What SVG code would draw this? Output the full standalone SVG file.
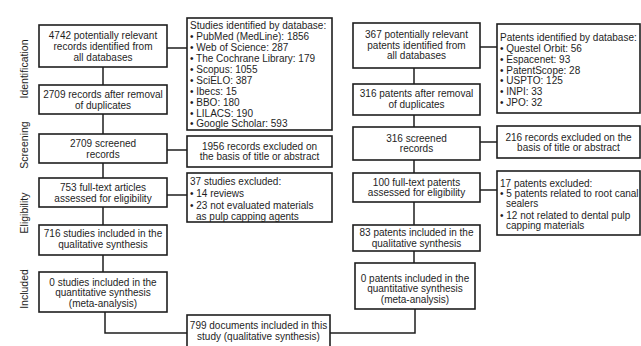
<svg xmlns="http://www.w3.org/2000/svg" width="641" height="346" viewBox="0 0 641 346">
<style>
.b{fill:#fff;stroke:#1e1e1e;stroke-width:1.6}
.c{fill:none;stroke:#1e1e1e;stroke-width:1.5}
text{font-family:"Liberation Sans",Arial,sans-serif;font-size:10px;fill:#1e1e1e}
.m{text-anchor:middle}
.s{font-size:10.5px;text-anchor:middle}
</style>
<rect width="641" height="346" fill="#fff"/>
<g id="stages">
<text class="s" transform="translate(28,69) rotate(-90)">Identification</text>
<text class="s" transform="translate(28,145) rotate(-90)">Screening</text>
<text class="s" transform="translate(28,213) rotate(-90)">Eligibility</text>
<text class="s" transform="translate(28,289) rotate(-90)">Included</text>
</g>
<g id="connectors">
<polyline class="c" points="103,67 103,85"/>
<polyline class="c" points="103,114 103,134"/>
<polyline class="c" points="103,163 103,178"/>
<polyline class="c" points="103,207 103,225"/>
<polyline class="c" points="103,255 103,272"/>
<polyline class="c" points="105,312 105,333 187,333"/>
<line class="c" x1="167" y1="48" x2="187" y2="48"/>
<line class="c" x1="167" y1="150" x2="187" y2="150"/>
<line class="c" x1="167" y1="195" x2="187" y2="195"/>
<polyline class="c" points="414,68 414,84"/>
<polyline class="c" points="414,115 414,127"/>
<polyline class="c" points="414,160 414,173"/>
<polyline class="c" points="414,202 414,225"/>
<polyline class="c" points="414,251 414,263"/>
<polyline class="c" points="415,309 415,333 330,333"/>
<line class="c" x1="480" y1="47" x2="497" y2="47"/>
<line class="c" x1="480" y1="142" x2="497" y2="142"/>
<line class="c" x1="480" y1="190" x2="497" y2="190"/>
</g>
<g id="L1"><rect class="b" x="39" y="25" width="128" height="42"/>
<text class="m" x="103" y="38.5">4742 potentially relevant</text>
<text class="m" x="103" y="49.5">records identified from</text>
<text class="m" x="103" y="60.5">all databases</text></g>
<g id="L2"><rect class="b" x="39" y="85" width="128" height="29"/>
<text class="m" x="103" y="97.5">2709 records after removal</text>
<text class="m" x="103" y="109">of duplicates</text></g>
<g id="L3"><rect class="b" x="39" y="134" width="128" height="29"/>
<text class="m" x="103" y="146.5">2709 screened</text>
<text class="m" x="103" y="157.5">records</text></g>
<g id="L4"><rect class="b" x="39" y="178" width="128" height="29"/>
<text class="m" x="103" y="191">753 full-text articles</text>
<text class="m" x="103" y="202">assessed for eligibility</text></g>
<g id="L5"><rect class="b" x="39" y="225" width="128" height="30"/>
<text class="m" x="103" y="237">716 studies included in the</text>
<text class="m" x="103" y="248">qualitative synthesis</text></g>
<g id="L6"><rect class="b" x="39" y="272" width="128" height="40"/>
<text class="m" x="103" y="285.5">0 studies included in the</text>
<text class="m" x="103" y="296">quantitative synthesis</text>
<text class="m" x="103" y="306.5">(meta-analysis)</text></g>
<g id="LDB"><rect class="b" x="187" y="18" width="145" height="112"/>
<text x="190" y="28.5">Studies identified by database:</text>
<text x="190" y="39.5">• PubMed (MedLine): 1856</text>
<text x="190" y="50.5">• Web of Science: 287</text>
<text x="190" y="61.5">• The Cochrane Library: 179</text>
<text x="190" y="72.5">• Scopus: 1055</text>
<text x="190" y="83.5">• SciELO: 387</text>
<text x="190" y="94.5">• Ibecs: 15</text>
<text x="190" y="105.5">• BBO: 180</text>
<text x="190" y="116.5">• LILACS: 190</text>
<text x="190" y="127">• Google Scholar: 593</text></g>
<g id="LX1"><rect class="b" x="187" y="136" width="145" height="31"/>
<text class="m" x="259.5" y="149.5">1956 records excluded on</text>
<text class="m" x="259.5" y="160">the basis of title or abstract</text></g>
<g id="LX2"><rect class="b" x="187" y="173" width="145" height="49"/>
<text x="190" y="185">37 studies excluded:</text>
<text x="190" y="196.5">• 14 reviews</text>
<text x="190" y="208.5">• 23 not evaluated materials</text>
<text x="196" y="219.5">as pulp capping agents</text></g>
<g id="R1"><rect class="b" x="353" y="23" width="127" height="45"/>
<text class="m" x="416.5" y="38">367 potentially relevant</text>
<text class="m" x="416.5" y="48.5">patents identified from</text>
<text class="m" x="416.5" y="59">all databases</text></g>
<g id="R2"><rect class="b" x="353" y="84" width="127" height="31"/>
<text class="m" x="416.5" y="96.5">316 patents after removal</text>
<text class="m" x="416.5" y="108">of duplicates</text></g>
<g id="R3"><rect class="b" x="353" y="127" width="127" height="33"/>
<text class="m" x="416.5" y="141.5">316 screened</text>
<text class="m" x="416.5" y="152">records</text></g>
<g id="R4"><rect class="b" x="353" y="173" width="127" height="29"/>
<text class="m" x="416.5" y="185.5">100 full-text patents</text>
<text class="m" x="416.5" y="196">assessed for eligibility</text></g>
<g id="R5"><rect class="b" x="353" y="225" width="127" height="26"/>
<text class="m" x="416.5" y="236">83 patents included in the</text>
<text class="m" x="416.5" y="247">qualitative synthesis</text></g>
<g id="R6"><rect class="b" x="355" y="263" width="120" height="46"/>
<text class="m" x="415" y="281.5">0 patents included in the</text>
<text class="m" x="415" y="292">quantitative synthesis</text>
<text class="m" x="415" y="302.5">(meta-analysis)</text></g>
<g id="RDB"><rect class="b" x="497" y="24" width="143" height="89"/>
<text x="500" y="40.5">Patents identified by database:</text>
<text x="500" y="51.5">• Questel Orbit: 56</text>
<text x="500" y="62.5">• Espacenet: 93</text>
<text x="500" y="73.5">• PatentScope: 28</text>
<text x="500" y="84">• USPTO: 125</text>
<text x="500" y="94.5">• INPI: 33</text>
<text x="500" y="105.5">• JPO: 32</text></g>
<g id="RX1"><rect class="b" x="497" y="126" width="143" height="32"/>
<text class="m" x="568.5" y="140.5">216 records excluded on the</text>
<text class="m" x="568.5" y="151">basis of title or abstract</text></g>
<g id="RX2"><rect class="b" x="497" y="171" width="143" height="64"/>
<text x="500" y="186.5">17 patents excluded:</text>
<text x="500" y="196.5">• 5 patents related to root canal</text>
<text x="506" y="206.5">sealers</text>
<text x="500" y="218.5">• 12 not related to dental pulp</text>
<text x="506" y="228.5">capping materials</text></g>
<g id="F"><rect class="b" x="187" y="315" width="143" height="36"/>
<text class="m" x="258.5" y="328.5">799 documents included in this</text>
<text class="m" x="258.5" y="339.5">study (qualitative synthesis)</text></g>
</svg>
